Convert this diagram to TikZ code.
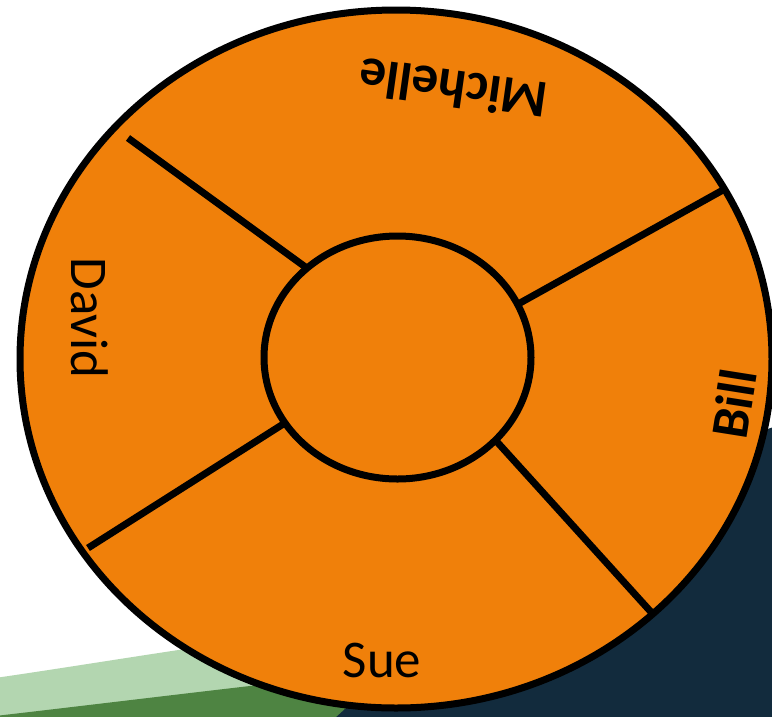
\documentclass[tikz,border=0pt]{standalone}
\usepackage{fontspec}
\setmainfont{Carlito}
\usetikzlibrary{shapes.geometric}
\definecolor{orng}{RGB}{240,128,10}
\definecolor{navy}{RGB}{18,43,61}
\definecolor{lgreen}{RGB}{179,214,176}
\definecolor{dgreen}{RGB}{78,132,66}
\begin{document}
\begin{tikzpicture}[x=1pt,y=-1pt,
  ring/.style={ellipse, draw=black, line width=7pt, fill=orng, inner sep=0pt},
  spoke/.style={draw=black, line width=7pt},
  lbl/.style={inner sep=0pt, text=black, font=\fontsize{53}{53}\selectfont},
  lblb/.style={lbl, font=\fontsize{53}{53}\selectfont\bfseries}]
\useasboundingbox (0,0) rectangle (772,716);
\clip (0,0) rectangle (772,716);
\fill[white] (0,0) rectangle (772,716);
% background bands
\fill[lgreen] (-5,678) .. controls (120,660) and (300,628) .. (480,612) -- (480,730) -- (-5,730) -- cycle;
\fill[dgreen] (-5,716) .. controls (100,704) and (260,684) .. (480,660) -- (480,730) -- (-5,730) -- cycle;
\fill[navy] (322,730) .. controls (420,640) and (600,480) .. (780,425) -- (780,730) -- cycle;
% outer wheel
\node[ring, minimum width=752pt, minimum height=698pt] (outer) at (396,359) {};
% spoke end points
\coordinate (s1o) at (128,138);
\coordinate (s1i) at (315,274);
\coordinate (s2o) at (723,190);
\coordinate (s2i) at (511,308);
\coordinate (s3o) at (651,612);
\coordinate (s3i) at (489,433);
\coordinate (s4o) at (88,548);
\coordinate (s4i) at (288,421);
\draw[spoke] (s1o) -- (s1i);
\draw[spoke] (s2o) -- (s2i);
\draw[spoke] (s3o) -- (s3i);
\draw[spoke] (s4o) -- (s4i);
% hub
\node[ring, minimum width=267pt, minimum height=243pt] (hub) at (397.5,357.5) {};
% labels
\node[lblb, rotate=172] (michelle) at (453,89) {Michelle};
\node[lbl, rotate=-90] (david) at (90,318) {David};
\node[lblb, rotate=81] (bill) at (734,404) {Bill};
\node[lbl] (sue) at (382,660) {Sue};
\end{tikzpicture}
\end{document}
